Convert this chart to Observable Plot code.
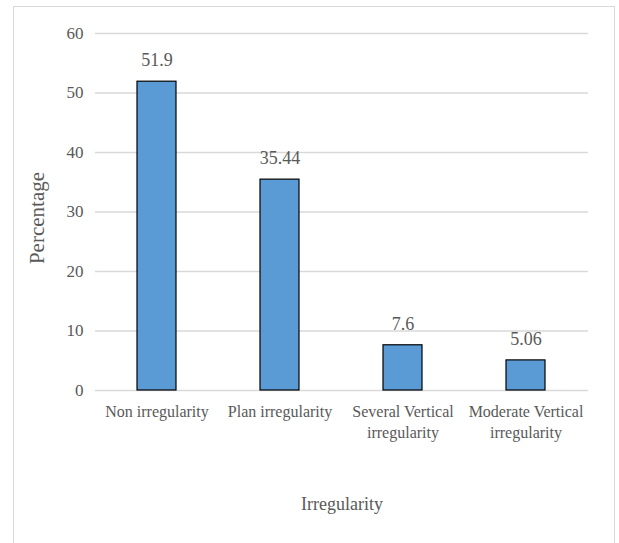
<!DOCTYPE html>
<html>
<head>
<meta charset="utf-8">
<script src="https://cdn.jsdelivr.net/npm/d3@7"></script>
<script src="https://cdn.jsdelivr.net/npm/@observablehq/plot@0.6"></script>
<style>
  html, body { margin: 0; padding: 0; background: #fff; }
  #wrap { position: relative; width: 619px; height: 543px; overflow: hidden; }
  #border { position: absolute; left: 13px; top: 6px; width: 602px; height: 600px; border: 1.5px solid #d9d9d9; pointer-events: none; box-sizing: border-box; }
  #chart svg, #chart svg text, #chart svg g { font-family: "Liberation Serif", "Times New Roman", serif !important; }
</style>
</head>
<body>
<div id="wrap"><div id="chart"></div><div id="border"></div></div>
<script>
const categories = ["Non irregularity", "Plan irregularity", "Several Vertical irregularity", "Moderate Vertical irregularity"];
const tickLabels = ["Non irregularity", "Plan irregularity", "Several Vertical\nirregularity", "Moderate Vertical\nirregularity"];
const values = [51.9, 35.44, 7.6, 5.06];
const valueLabels = ["51.9", "35.44", "7.6", "5.06"];
const yTicks = [0, 10, 20, 30, 40, 50, 60];

const data = categories.map((c, i) => ({category: c, value: values[i], label: valueLabels[i]}));
const labelMap = new Map(categories.map((c, i) => [c, tickLabels[i]]));

const chart = Plot.plot({
  width: 619,
  height: 543,
  marginLeft: 95,
  marginRight: 31,
  marginTop: 33,
  marginBottom: 153,
  style: "font-family: 'Liberation Serif', serif; background: transparent;",
  x: {domain: categories, paddingInner: 0.68, paddingOuter: 0.34, label: null},
  y: {domain: [0, 60], ticks: yTicks, label: null},
  marks: [
    Plot.ruleY(yTicks, {stroke: "#d9d9d9", strokeWidth: 1.3}),
    Plot.barY(data, {x: "category", y: "value", fill: "#5b9bd5", stroke: "#000", strokeWidth: 1.2}),
    Plot.text(data, {x: "category", y: "value", text: "label", dy: -21, fontSize: 18, fill: "#595959"}),
    Plot.axisY({ticks: yTicks, tickSize: 0, tickPadding: 12, fontSize: 17, fill: "#595959", label: null}),
    Plot.axisX({tickSize: 0, tickPadding: 12, fontSize: 16, fill: "#595959", lineHeight: 1.3, tickFormat: d => labelMap.get(d), label: null}),
    Plot.text(["Percentage"], {frameAnchor: "left", textAnchor: "middle", lineAnchor: "middle", dx: -58, dy: 6, rotate: -90, fontSize: 21, fill: "#595959"}),
    Plot.text(["Irregularity"], {frameAnchor: "bottom", dy: 119, fontSize: 18, fill: "#595959"})
  ]
});
document.getElementById("chart").appendChild(chart);
</script>
</body>
</html>
